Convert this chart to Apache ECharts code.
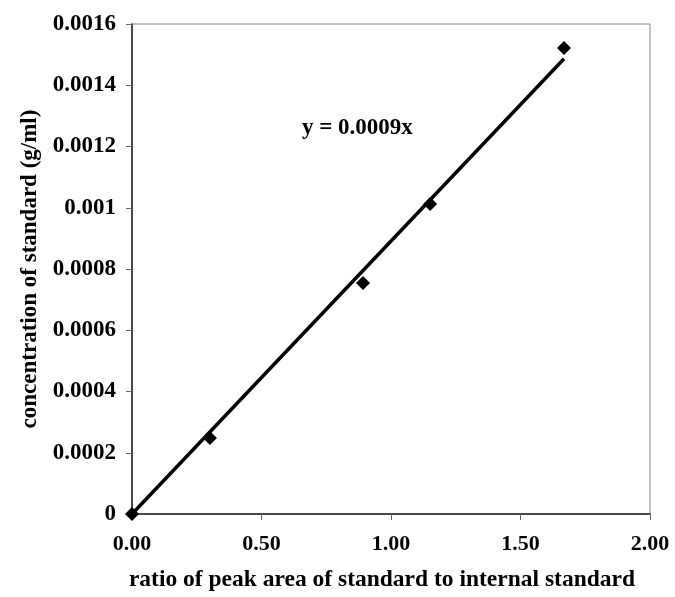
<!DOCTYPE html>
<html>
<head>
<meta charset="utf-8">
<script src="https://cdn.jsdelivr.net/npm/echarts@6/dist/echarts.min.js"></script>
<style>html,body{margin:0;padding:0;background:#fff;}#c{width:675px;height:597px;}</style>
</head>
<body>
<div id="c"></div>
<script>
var ratioX = [0, 0.301, 0.892, 1.151, 1.668];
var concY = [0, 0.000248, 0.000754, 0.001012, 0.001522];
var equationText = 'y = 0.0009x';
var xTicks = [0, 0.5, 1.0, 1.5, 2.0];
var yTicks = [0, 0.0002, 0.0004, 0.0006, 0.0008, 0.001, 0.0012, 0.0014, 0.0016];

// linear trend through origin (least squares)
var sxy = 0, sxx = 0;
for (var i = 0; i < ratioX.length; i++) { sxy += ratioX[i] * concY[i]; sxx += ratioX[i] * ratioX[i]; }
var slope = sxy / sxx;
var xMax = Math.max.apply(null, ratioX);
var trend = [[0, 0], [xMax, slope * xMax]];

var font = '"Liberation Serif", "Times New Roman", serif';
var chart = echarts.init(document.getElementById('c'));
chart.setOption({
  animation: false,
  backgroundColor: '#fff',
  grid: { left: 132, top: 24, right: 25, bottom: 83, show: true, borderColor: '#888', borderWidth: 1 },
  xAxis: {
    type: 'value', min: xTicks[0], max: xTicks[xTicks.length - 1], interval: 0.5,
    name: 'ratio of peak area of standard to internal standard',
    nameLocation: 'middle', nameGap: 54,
    nameTextStyle: { fontFamily: font, fontWeight: 'bold', fontSize: 23.5, color: '#000', padding: [0, 18, 0, 0] },
    axisLine: { show: true, lineStyle: { color: '#222', width: 1.5 } },
    axisTick: { show: true, length: 6, lineStyle: { color: '#666' } },
    splitLine: { show: false },
    axisLabel: { margin: 19, fontFamily: font, fontWeight: 'bold', fontSize: 22, color: '#000',
      formatter: function (v) { return v.toFixed(2); } }
  },
  yAxis: {
    type: 'value', min: yTicks[0], max: yTicks[yTicks.length - 1], interval: 0.0002,
    name: 'concentration of standard (g/ml)',
    nameLocation: 'middle', nameGap: 90,
    nameTextStyle: { fontFamily: font, fontWeight: 'bold', fontSize: 23, color: '#000' },
    axisLine: { show: true, lineStyle: { color: '#222', width: 1.5 } },
    axisTick: { show: true, length: 6, lineStyle: { color: '#666' } },
    splitLine: { show: false },
    axisLabel: { margin: 16, fontFamily: font, fontWeight: 'bold', fontSize: 23, color: '#000',
      formatter: function (v) { return v === 0 ? '0' : String(parseFloat(v.toFixed(4))); } }
  },
  graphic: [{
    type: 'text', left: 302, top: 117,
    style: { text: equationText, font: 'bold 23px ' + font, fill: '#000' }
  }],
  series: [
    { type: 'line', data: trend, symbol: 'none', lineStyle: { color: '#000', width: 3.5 }, z: 2 },
    { type: 'scatter', data: ratioX.map(function (x, i) { return [x, concY[i]]; }),
      symbol: 'diamond', symbolSize: 14, itemStyle: { color: '#000', opacity: 1 }, z: 3 }
  ]
});
</script>
</body>
</html>
